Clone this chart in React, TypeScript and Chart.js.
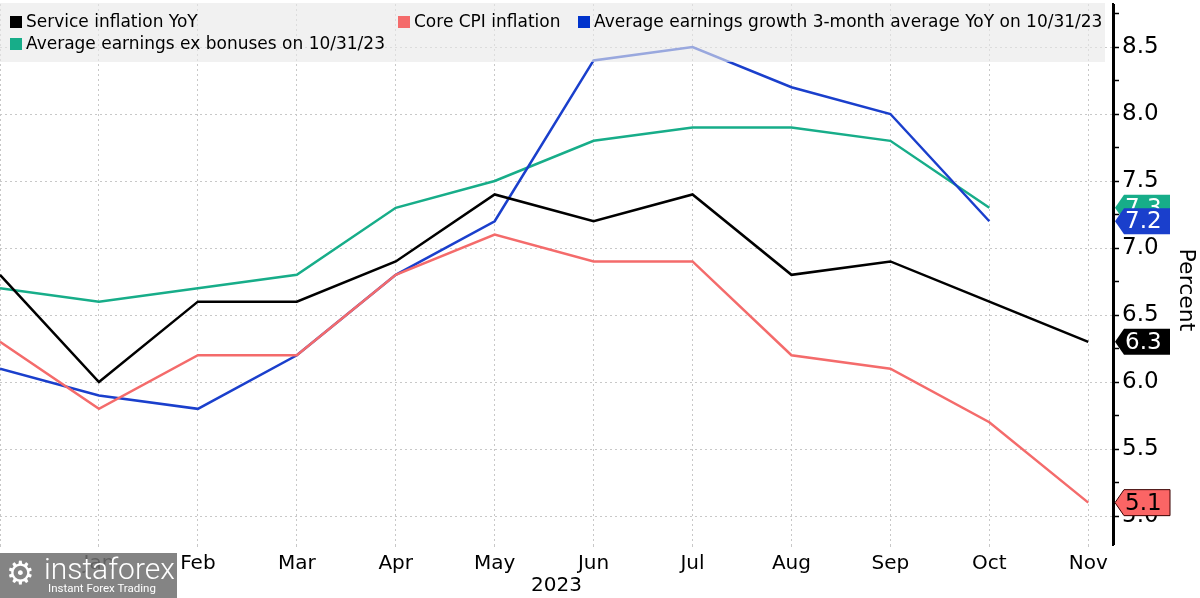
import React, { useEffect, useRef } from "react";
import { Chart, registerables } from "chart.js";

Chart.register(...registerables);

// index 0 = Dec 2022 (unlabelled), then Jan..Nov 2023
const monthLabels = ["", "Jan", "Feb", "Mar", "Apr", "May", "Jun", "Jul", "Aug", "Sep", "Oct", "Nov"];
const serviceInflation = [6.8, 6.0, 6.6, 6.6, 6.9, 7.4, 7.2, 7.4, 6.8, 6.9, 6.6, 6.3];
const coreCpi = [6.3, 5.8, 6.2, 6.2, 6.8, 7.1, 6.9, 6.9, 6.2, 6.1, 5.7, 5.1];
const earnings3m = [6.1, 5.9, 5.8, 6.2, 6.8, 7.2, 8.4, 8.5, 8.2, 8.0, 7.2, null];
const earningsExBonus = [6.7, 6.6, 6.7, 6.8, 7.3, 7.5, 7.8, 7.9, 7.9, 7.8, 7.3, null];
const yTickValues = [5.0, 5.25, 5.5, 5.75, 6.0, 6.25, 6.5, 6.75, 7.0, 7.25, 7.5, 7.75, 8.0, 8.25, 8.5, 8.75];

const BLACK = "#000000";
const RED = "#f46b6b";
const BLUE = "#1a3fcc";
const GREEN = "#17ad89";
const FONT = "'DejaVu Sans', Verdana, sans-serif";

const lastValue = (arr: (number | null)[]) => {
  for (let i = arr.length - 1; i >= 0; i--) if (arr[i] != null) return arr[i] as number;
  return null;
};

const toPoints = (arr: (number | null)[]) => arr.map((v, i) => ({ x: i, y: v }));

const legendPlugin = {
  id: "customLegend",
  afterDatasetsDraw(chart: any) {
    const ctx = chart.ctx;
    ctx.save();
    ctx.fillStyle = "rgba(232,232,232,0.62)";
    ctx.fillRect(0, 3, 1105, 59);
    ctx.font = `17px ${FONT}`;
    ctx.textBaseline = "middle";
    ctx.textAlign = "left";
    const items = [
      { x: 10, y: 22, color: BLACK, text: "Service inflation YoY" },
      { x: 398, y: 22, color: RED, text: "Core CPI inflation" },
      { x: 578, y: 22, color: "#0033cc", text: "Average earnings growth 3-month average YoY on 10/31/23" },
      { x: 10, y: 44, color: GREEN, text: "Average earnings ex bonuses on 10/31/23" },
    ];
    for (const it of items) {
      ctx.fillStyle = it.color;
      ctx.fillRect(it.x, it.y - 6, 12, 12);
      ctx.fillStyle = "#000";
      ctx.fillText(it.text, it.x + 16, it.y + 1);
    }
    ctx.restore();
  },
};

const tagPlugin = {
  id: "valueTags",
  afterDraw(chart: any) {
    const ctx = chart.ctx;
    const yScale = chart.scales.y;
    const area = chart.chartArea;
    ctx.save();
    // solid axis line
    ctx.strokeStyle = "#000";
    ctx.lineWidth = 2;
    ctx.setLineDash([]);
    ctx.beginPath();
    ctx.moveTo(area.right + 1, area.top);
    ctx.lineTo(area.right + 1, area.bottom);
    ctx.stroke();

    const x0 = area.right + 2;
    const tags = [
      { v: lastValue(earningsExBonus), fill: GREEN, text: "#fff", border: null },
      { v: lastValue(earnings3m), fill: BLUE, text: "#fff", border: null },
      { v: lastValue(serviceInflation), fill: BLACK, text: "#fff", border: null },
      { v: lastValue(coreCpi), fill: "#fb6565", text: "#000", border: "#3a0000" },
    ];
    for (const t of tags) {
      if (t.v == null) continue;
      const y = yScale.getPixelForValue(t.v);
      ctx.beginPath();
      ctx.moveTo(x0, y);
      ctx.lineTo(x0 + 9, y - 13);
      ctx.lineTo(1170, y - 13);
      ctx.lineTo(1170, y + 13);
      ctx.lineTo(x0 + 9, y + 13);
      ctx.closePath();
      ctx.fillStyle = t.fill;
      ctx.fill();
      if (t.border) {
        ctx.strokeStyle = t.border;
        ctx.lineWidth = 1;
        ctx.stroke();
      }
      ctx.fillStyle = t.text;
      ctx.font = `23px ${FONT}`;
      ctx.textAlign = "left";
      ctx.textBaseline = "middle";
      ctx.fillText(t.v.toFixed(1), x0 + 10, y + 1);
    }
    // axis title "Percent"
    ctx.translate(1186, 290);
    ctx.rotate(Math.PI / 2);
    ctx.fillStyle = "#000";
    ctx.font = `22px ${FONT}`;
    ctx.textAlign = "center";
    ctx.textBaseline = "middle";
    ctx.fillText("Percent", 0, 0);
    ctx.restore();
  },
};

export default function App() {
  const canvasRef = useRef<HTMLCanvasElement | null>(null);

  useEffect(() => {
    if (!canvasRef.current) return;
    const mk = (label: string, data: (number | null)[], color: string) => ({
      label,
      data: toPoints(data),
      borderColor: color,
      backgroundColor: color,
      borderWidth: 2.5,
      pointRadius: 0,
      tension: 0,
      spanGaps: false,
    });
    const chart = new Chart(canvasRef.current, {
      type: "line",
      data: {
        datasets: [
          mk("Service inflation YoY", serviceInflation, BLACK),
          mk("Core CPI inflation", coreCpi, RED),
          mk("Average earnings growth 3-month average YoY on 10/31/23", earnings3m, BLUE),
          mk("Average earnings ex bonuses on 10/31/23", earningsExBonus, GREEN),
        ],
      },
      options: {
        responsive: false,
        animation: false,
        layout: { padding: { top: 4, left: 0, right: 0, bottom: 0 } },
        plugins: { legend: { display: false }, tooltip: { enabled: false } },
        scales: {
          x: {
            type: "linear",
            min: 0,
            max: 11.25,
            afterBuildTicks: (s: any) => {
              s.ticks = monthLabels.map((_, i) => ({ value: i }));
            },
            afterFit: (s: any) => {
              s.height = 53;
              s.paddingLeft = 0;
              s.paddingRight = 0;
            },
            ticks: {
              autoSkip: false,
              maxRotation: 0,
              padding: 2,
              color: "#000",
              font: { family: FONT, size: 20 },
              callback: (v: any) => monthLabels[Math.round(Number(v))] ?? "",
            },
            grid: {
              color: "#c8c8c8",
              lineWidth: 1,
              tickBorderDash: [2, 3],
              tickLength: 5,
              drawTicks: true,
            },
            border: { display: false, dash: [2, 3] },
            title: {
              display: true,
              text: "2023",
              color: "#000",
              font: { family: FONT, size: 20 },
              padding: 0,
            },
          },
          y: {
            type: "linear",
            position: "right",
            min: 4.784,
            max: 8.821,
            afterBuildTicks: (s: any) => {
              s.ticks = yTickValues.map((v) => ({ value: v }));
            },
            afterFit: (s: any) => {
              s.width = 87;
              s.paddingTop = 0;
              s.paddingBottom = 0;
            },
            ticks: {
              padding: 3,
              color: "#000",
              font: { family: FONT, size: 23 },
              callback: (v: any) => {
                const n = Number(v);
                return Math.abs(n * 2 - Math.round(n * 2)) < 1e-6 ? n.toFixed(1) : "";
              },
            },
            grid: {
              color: (c: any) => {
                const n = c.tick ? c.tick.value : 0;
                return Math.abs(n * 2 - Math.round(n * 2)) < 1e-6 ? "#c8c8c8" : "rgba(0,0,0,0)";
              },
              tickColor: "#000",
              tickLength: 6,
              tickWidth: 1.5,
              tickBorderDash: [],
              drawTicks: true,
            },
            border: { display: true, color: "#000", width: 2, dash: [2, 3] },
          },
        },
      },
      plugins: [legendPlugin, tagPlugin],
    } as any);
    return () => chart.destroy();
  }, []);

  return (
    <div style={{ position: "fixed", left: 0, top: 0, width: 1200, height: 598, background: "#fff", overflow: "hidden" }}>
      <canvas ref={canvasRef} width={1200} height={598} style={{ display: "block", width: 1200, height: 598 }} />
      <div
        style={{
          position: "absolute",
          left: 0,
          top: 553,
          width: 177,
          height: 45,
          background: "rgba(112,112,112,0.86)",
          color: "#fff",
          fontFamily: "Roboto, 'Open Sans', sans-serif",
          overflow: "hidden",
        }}
      >
        <div style={{ position: "absolute", left: 6, top: 1, fontSize: 32, lineHeight: "38px" }}>⚙</div>
        <div style={{ position: "absolute", left: 44, top: -3, fontSize: 30, lineHeight: "38px", fontWeight: 300 }}>
          instaforex
        </div>
        <div style={{ position: "absolute", left: 48, top: 28, fontSize: 11.5, lineHeight: "14px" }}>Instant Forex Trading</div>
      </div>
    </div>
  );
}
